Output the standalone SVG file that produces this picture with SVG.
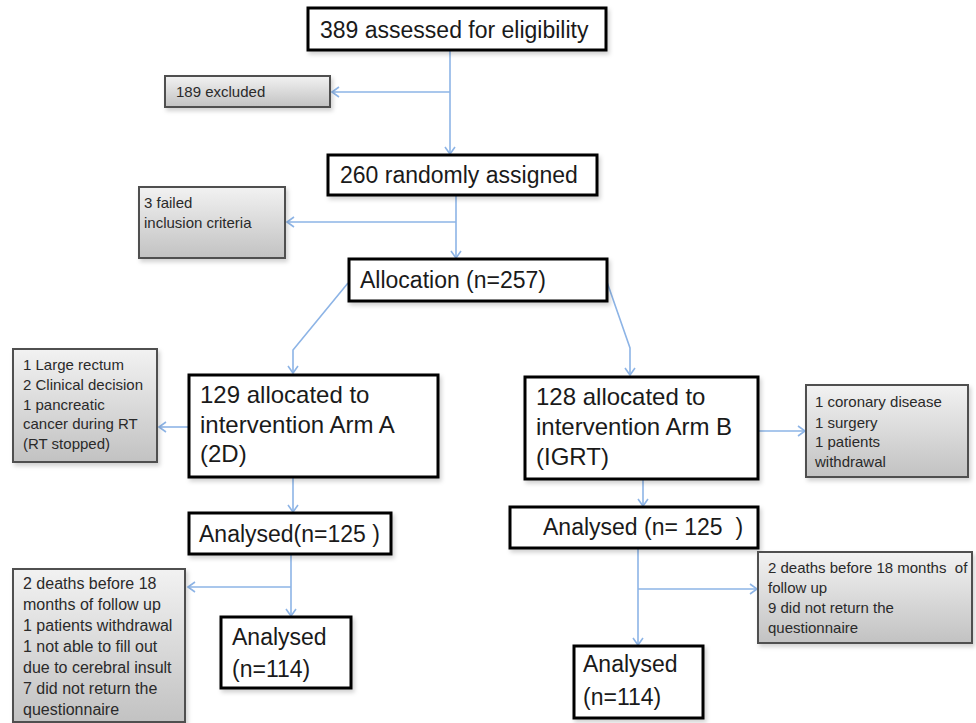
<svg xmlns="http://www.w3.org/2000/svg" width="976" height="723" viewBox="0 0 976 723">
<style>
  .box { fill: #ffffff; stroke: #000000; stroke-width: 3; filter: url(#shadow); }
  .gbox { fill: url(#grey); stroke: #505050; stroke-width: 2; filter: url(#shadow); }
  .t { font-family: "Liberation Sans", Arial, sans-serif; font-size: 23px; fill: #1a1a1a; }
  .ta { font-family: "Liberation Sans", Arial, sans-serif; font-size: 24px; fill: #1a1a1a; }
  .s { font-family: "Liberation Sans", Arial, sans-serif; font-size: 15px; fill: #2a2a2a; }
  .s16 { font-family: "Liberation Sans", Arial, sans-serif; font-size: 16px; fill: #2a2a2a; }
  .c { fill: none; stroke: #8db4e6; stroke-width: 1.6; marker-end: url(#arr); }
</style>
<defs>
  <linearGradient id="grey" x1="0" y1="0" x2="0" y2="1">
    <stop offset="0" stop-color="#f2f2f2"/>
    <stop offset="1" stop-color="#c2c2c2"/>
  </linearGradient>
  <filter id="shadow" x="-10%" y="-10%" width="130%" height="140%">
    <feDropShadow dx="2" dy="3" stdDeviation="2" flood-color="#000000" flood-opacity="0.18"/>
  </filter>
  <marker id="arr" markerUnits="userSpaceOnUse" markerWidth="14" markerHeight="14" refX="9" refY="6" orient="auto">
    <path d="M2,1 L9,6 L2,11" fill="none" stroke="#8db4e6" stroke-width="1.6"/>
  </marker>
</defs>

<g id="connectors">
  <line class="c" x1="450" y1="50" x2="450" y2="154"/>
  <line class="c" x1="450" y1="92" x2="332" y2="92"/>
  <line class="c" x1="456" y1="196" x2="456" y2="258"/>
  <line class="c" x1="456" y1="222" x2="287" y2="222"/>
  <polyline class="c" points="348,283 293,350 293,373"/>
  <polyline class="c" points="607,282 630,348 630,375"/>
  <line class="c" x1="189" y1="427" x2="159" y2="427"/>
  <line class="c" x1="758" y1="431" x2="805" y2="431"/>
  <line class="c" x1="293" y1="478" x2="293" y2="512"/>
  <line class="c" x1="643" y1="480" x2="643" y2="506"/>
  <line class="c" x1="291" y1="555" x2="291" y2="616"/>
  <line class="c" x1="291" y1="587" x2="188" y2="587"/>
  <line class="c" x1="638" y1="549" x2="638" y2="645"/>
  <line class="c" x1="638" y1="589" x2="757" y2="589"/>
</g>

<g id="n-assessed">
  <rect class="box" x="308" y="8" width="298" height="42"/>
  <text class="t" x="320" y="38">389 assessed for eligibility</text>
</g>
<g id="n-excluded">
  <rect class="gbox" x="165" y="76" width="165" height="31"/>
  <text class="s" x="176" y="97">189 excluded</text>
</g>
<g id="n-randomly">
  <rect class="box" x="328" y="155" width="269" height="40"/>
  <text class="t" x="340" y="183">260 randomly assigned</text>
</g>
<g id="n-failed">
  <rect class="gbox" x="139" y="187" width="146" height="71"/>
  <text class="s" x="144" y="208">3 failed</text>
  <text class="s" x="144" y="228">inclusion criteria</text>
</g>
<g id="n-allocation">
  <rect class="box" x="349" y="259" width="258" height="42"/>
  <text class="t" x="360" y="288">Allocation (n=257)</text>
</g>
<g id="n-armA">
  <rect class="box" x="189" y="375" width="249" height="102"/>
  <text class="ta" x="200" y="403">129 allocated to</text>
  <text class="ta" x="200" y="433">intervention Arm A</text>
  <text class="ta" x="200" y="462">(2D)</text>
</g>
<g id="n-exclA">
  <rect class="gbox" x="13" y="349" width="144" height="113"/>
  <text class="s" x="23" y="370">1 Large rectum</text>
  <text class="s" x="23" y="390">2 Clinical decision</text>
  <text class="s" x="23" y="410">1 pancreatic</text>
  <text class="s" x="23" y="429">cancer during RT</text>
  <text class="s" x="23" y="449">(RT stopped)</text>
</g>
<g id="n-armB">
  <rect class="box" x="525" y="377" width="233" height="102"/>
  <text class="ta" x="536" y="405">128 allocated to</text>
  <text class="ta" x="536" y="435">intervention Arm B</text>
  <text class="ta" x="536" y="465">(IGRT)</text>
</g>
<g id="n-exclB">
  <rect class="gbox" x="806" y="385" width="162" height="92"/>
  <text class="s" x="815" y="407">1 coronary disease</text>
  <text class="s" x="815" y="428">1 surgery</text>
  <text class="s" x="815" y="447">1 patients</text>
  <text class="s" x="815" y="467">withdrawal</text>
</g>
<g id="n-analysedA">
  <rect class="box" x="189" y="513" width="202" height="41"/>
  <text class="t" x="199" y="542">Analysed(n=125 )</text>
</g>
<g id="n-analysedB">
  <rect class="box" x="510" y="507" width="248" height="41"/>
  <text class="t" x="543" y="535" xml:space="preserve">Analysed (n= 125  )</text>
</g>
<g id="n-lossA">
  <rect class="gbox" x="13" y="569" width="172" height="153"/>
  <text class="s16" x="23" y="589">2 deaths before 18</text>
  <text class="s16" x="23" y="610">months of follow up</text>
  <text class="s16" x="23" y="631">1 patients withdrawal</text>
  <text class="s16" x="23" y="652">1 not able to fill out</text>
  <text class="s16" x="23" y="673">due to cerebral insult</text>
  <text class="s16" x="23" y="694">7 did not return the</text>
  <text class="s16" x="23" y="715">questionnaire</text>
</g>
<g id="n-finalA">
  <rect class="box" x="221" y="617" width="130" height="71"/>
  <text class="t" x="232" y="645">Analysed</text>
  <text class="t" x="232" y="677">(n=114)</text>
</g>
<g id="n-lossB">
  <rect class="gbox" x="758" y="552" width="214" height="91"/>
  <text class="s" x="768" y="573" xml:space="preserve">2 deaths before 18 months  of</text>
  <text class="s" x="768" y="593">follow up</text>
  <text class="s" x="768" y="613">9 did not return the</text>
  <text class="s" x="768" y="633">questionnaire</text>
</g>
<g id="n-finalB">
  <rect class="box" x="574" y="646" width="129" height="72"/>
  <text class="t" x="583" y="672">Analysed</text>
  <text class="t" x="583" y="705">(n=114)</text>
</g>
</svg>
